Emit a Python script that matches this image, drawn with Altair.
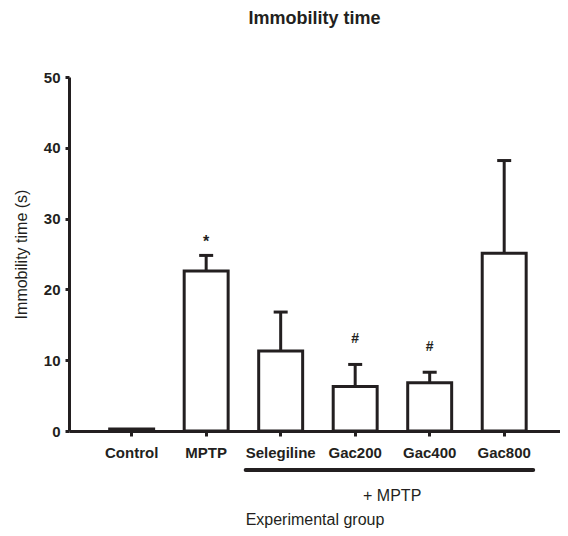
import altair as alt
import pandas as pd

C = "#231f20"
FONT = "Liberation Sans"

groups = ["Control", "MPTP", "Selegiline", "Gac200", "Gac400", "Gac800"]
means = [0.3, 22.6, 11.3, 6.3, 6.8, 25.1]
sems = [0.0, 2.2, 5.5, 3.1, 1.5, 13.1]
sig = ["", "*", "", "#", "#", ""]
y_ticks = [0, 10, 20, 30, 40, 50]
bracket_from, bracket_to = "Selegiline", "Gac800"
bracket_label = "+ MPTP"

df = pd.DataFrame({"group": groups, "mean": means, "sem": sems, "sig": sig})
df["upper"] = df["mean"] + df["sem"]

xscale = alt.Scale(domain=groups, paddingInner=0.41, paddingOuter=0.5, align=0.546)
yscale = alt.Scale(domain=[0, 50], nice=False)

x_axis = alt.Axis(
    title="Experimental group", labelAngle=0, tickSize=5, tickWidth=3,
    domainWidth=3, labelPadding=9, labelFontSize=15, labelFontWeight="bold",
    titleFontSize=16, titleFontWeight="normal", titleY=93,
    titleBaseline="alphabetic", domainColor=C, tickColor=C, labelColor=C, titleColor=C,
)
y_axis = alt.Axis(
    title="Immobility time (s)", values=y_ticks, tickSize=4, tickWidth=3,
    domainWidth=3, labelPadding=5, labelFontSize=15, labelFontWeight="bold",
    titleFontSize=16, titleFontWeight="normal", titlePadding=14, grid=False,
    domainColor=C, tickColor=C, labelColor=C, titleColor=C,
)

base = alt.Chart(df)
X = alt.X("group:N", scale=xscale, axis=x_axis, sort=groups)

bars = base.mark_bar(fill="white", stroke=C, strokeWidth=3).encode(
    x=X, y=alt.Y("mean:Q", scale=yscale, axis=y_axis)
)
err = base.transform_filter("datum.sem > 0")
err_rule = err.mark_rule(color=C, strokeWidth=3).encode(
    x=alt.X("group:N", scale=xscale, sort=groups),
    y=alt.Y("mean:Q", scale=yscale), y2="upper:Q",
)
err_cap = err.mark_tick(color=C, size=14, thickness=3, opacity=1).encode(
    x=alt.X("group:N", scale=xscale, sort=groups),
    y=alt.Y("upper:Q", scale=yscale),
)
star = base.transform_filter("datum.sig == '*'").mark_text(
    font=FONT, fontSize=16, fontWeight="bold", color=C, baseline="alphabetic", dy=-8
).encode(x=alt.X("group:N", scale=xscale, sort=groups), y=alt.Y("upper:Q", scale=yscale), text="sig:N")
hashm = base.transform_filter("datum.sig == '#'").mark_text(
    font=FONT, fontSize=14, fontWeight="bold", color=C, baseline="alphabetic", dy=-21
).encode(x=alt.X("group:N", scale=xscale, sort=groups), y=alt.Y("upper:Q", scale=yscale), text="sig:N")

bdf = pd.DataFrame({"a": [bracket_from], "b": [bracket_to], "mid": ["Gac200"], "label": [bracket_label]})
bracket = alt.Chart(bdf).mark_rule(
    color=C, strokeWidth=4, strokeCap="round", xOffset=-35, x2Offset=29
).encode(
    x=alt.X("a:N", scale=xscale, sort=groups),
    x2="b:N",
    y=alt.value(393),
)
bracket_text = alt.Chart(bdf).mark_text(
    font=FONT, fontSize=16, color=C, baseline="alphabetic", dx=37
).encode(
    x=alt.X("mid:N", scale=xscale, sort=groups), y=alt.value(424), text="label:N"
)

chart = alt.layer(bars, err_rule, err_cap, star, hashm, bracket, bracket_text).properties(
    width=491, height=354,
    title=alt.TitleParams("Immobility time", fontSize=18, fontWeight="bold", font=FONT,
                          color=C, anchor="middle", baseline="alphabetic", offset=28),
    autosize="none",
    padding={"left": 61, "top": 69, "right": 0, "bottom": 97},
).configure_view(stroke=None).configure_axis(labelFont=FONT, titleFont=FONT)

chart.save("out.html", embed_options={"renderer": "svg", "actions": False})
